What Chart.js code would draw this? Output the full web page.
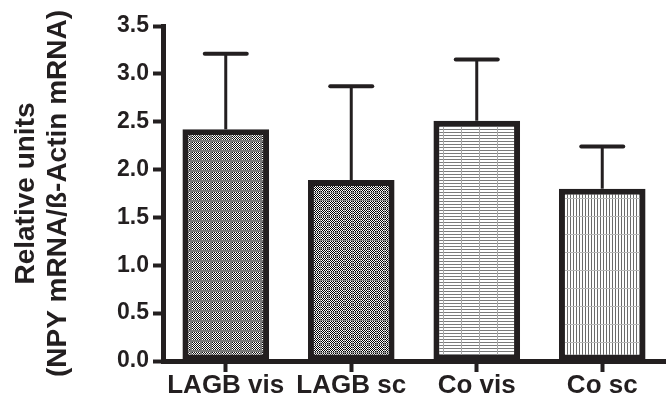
<!DOCTYPE html>
<html><head><meta charset="utf-8">
<script src="https://cdn.jsdelivr.net/npm/chart.js@4"></script>
<style>html,body{margin:0;padding:0;background:#fff}#wrap{width:666px;height:401px}</style>
</head><body><div id="wrap"><canvas id="c"></canvas></div>
<script>
const categories = ['LAGB vis', 'LAGB sc', 'Co vis', 'Co sc'];
const means = [2.42, 1.89, 2.51, 1.80];
const errors = [0.79, 0.98, 0.64, 0.44];
const yTicks = [0, 0.5, 1.0, 1.5, 2.0, 2.5, 3.0, 3.5];
const yTitle = ['Relative units', '(NPY mRNA/\u00DF-Actin mRNA)'];

const INK = '#231f20';
const FONT = "'Liberation Sans', Arial, sans-serif";

function tile(w, h, draw) {
  const c = document.createElement('canvas');
  c.width = w; c.height = h;
  const g = c.getContext('2d');
  g.fillStyle = '#fff'; g.fillRect(0, 0, w, h);
  draw(g, w, h);
  return document.createElement('canvas').getContext('2d').createPattern(c, 'repeat');
}
function checker(g, w, h, col) {
  g.fillStyle = col;
  for (let y = 0; y < h; y++) for (let x = 0; x < w; x++) if ((x + y) % 2 === 0) g.fillRect(x, y, 1, 1);
}
const patterns = [
  tile(10, 10, (g, w, h) => { checker(g, w, h, '#111'); g.fillStyle = '#7a7a7a'; g.fillRect(0, 0, w, 2); g.fillRect(0, 0, 2, h); }),
  tile(8, 8, (g, w, h) => { checker(g, w, h, '#000'); g.fillStyle = '#8a8a8a'; g.fillRect(0, 0, w, 1); g.fillRect(0, 0, 1, h); }),
  tile(36, 3, (g, w, h) => { g.fillStyle = '#7a7a7a'; g.fillRect(0, 0, w, 1); g.fillStyle = '#a8a8a8'; g.fillRect(11, 0, 1, h); g.fillRect(29, 0, 1, h); }),
  tile(3, 18, (g, w, h) => { g.fillStyle = '#6a6a6a'; g.fillRect(0, 0, 1, h); g.fillStyle = '#b8b8b8'; g.fillRect(0, 0, w, 1); })
];

const errorBars = {
  id: 'errorBars',
  afterDatasetsDraw(chart) {
    const ctx = chart.ctx;
    const y = chart.scales.y;
    const meta = chart.getDatasetMeta(0);
    ctx.save();
    ctx.strokeStyle = INK;
    meta.data.forEach((el, i) => {
      const top = y.getPixelForValue(means[i] + errors[i]);
      ctx.lineWidth = 3;
      ctx.beginPath(); ctx.moveTo(el.x, el.y); ctx.lineTo(el.x, top); ctx.stroke();
      ctx.lineWidth = 4;
      ctx.lineCap = 'round';
      ctx.beginPath(); ctx.moveTo(el.x - 21, top); ctx.lineTo(el.x + 21, top); ctx.stroke();
      ctx.lineCap = 'butt';
    });
    ctx.restore();
  }
};

new Chart(document.getElementById('c'), {
  type: 'bar',
  data: {
    labels: categories,
    datasets: [{
      data: means,
      backgroundColor: patterns,
      borderColor: INK,
      borderWidth: 6,
      borderSkipped: false,
      categoryPercentage: 1.0,
      barPercentage: 0.69
    }]
  },
  options: {
    responsive: true,
    maintainAspectRatio: false,
    animation: false,
    layout: { padding: { top: 26, right: 1, left: 0, bottom: 0 } },
    plugins: { legend: { display: false }, tooltip: { enabled: false } },
    scales: {
      x: {
        afterFit(s) { s.height = 40; },
        grid: { offset: false, drawOnChartArea: false, drawTicks: true, tickLength: 11, tickWidth: 4, tickColor: INK },
        border: { display: true, width: 5, color: INK },
        ticks: { color: INK, padding: 1, font: { family: FONT, size: 26, weight: 'bold', lineHeight: 1 } }
      },
      y: {
        min: 0, max: 3.5,
        afterFit(s) { s.width = 163; },
        afterBuildTicks(s) { s.ticks = yTicks.map(v => ({ value: v })); },
        grid: { drawOnChartArea: false, drawTicks: true, tickLength: 10, tickWidth: 4, tickColor: INK },
        border: { display: true, width: 5, color: INK },
        ticks: { color: INK, padding: 4, font: { family: FONT, size: 23, weight: 'bold' },
                 callback: v => Number(v).toFixed(1) },
        title: { display: true, text: yTitle, color: INK, padding: { top: 11, bottom: 0 },
                 font: { family: FONT, size: 28, weight: 'bold', lineHeight: 1.12 } }
      }
    }
  },
  plugins: [errorBars]
});
</script>
</body></html>
